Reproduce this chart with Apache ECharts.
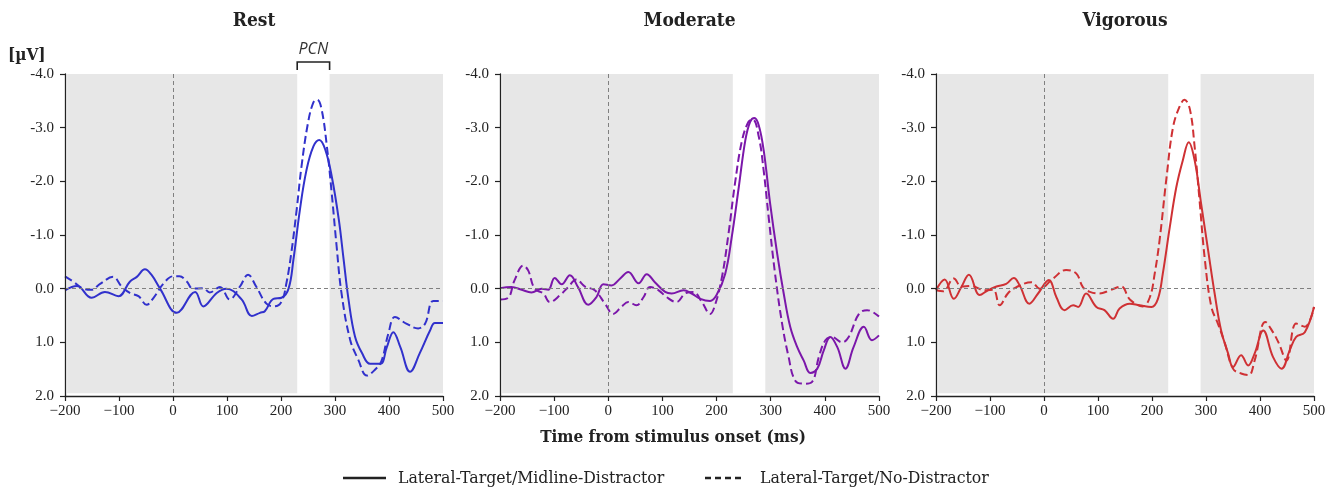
<!DOCTYPE html>
<html><head><meta charset="utf-8">
<script src="https://cdn.jsdelivr.net/npm/echarts@6/dist/echarts.min.js"></script>
<style>html,body{margin:0;padding:0;background:#fff}#c{width:1338px;height:487px}</style>
</head><body><div id="c"></div>
<script>
// ---------- DATA ----------
const panelTitles = ['Rest', 'Moderate', 'Vigorous'];
const legendNames = ['Lateral-Target/Midline-Distractor', 'Lateral-Target/No-Distractor'];
const xTicks = [-200, -100, 0, 100, 200, 300, 400, 500];
const yTicks = [-4, -3, -2, -1, 0, 1, 2];
const pcnWindow = [230, 290];
const panelColors = ['#3131cc', '#7b17aa', '#cf3134'];

// [time ms, amplitude µV]
const restSolid = [[-200,0.03],[-178,-0.05],[-151,0.17],[-126,0.06],[-101,0.14],[-80,-0.13],[-67,-0.22],[-52,-0.36],[-40,-0.26],[-24,0],[7,0.45],[41,0.06],[56,0.33],[81,0.08],[99,0.0],[127,0.2],[146,0.51],[161,0.45],[170,0.42],[186,0.19],[201,0.17],[214,0],[223,-0.54],[235,-1.47],[247,-2.2],[260,-2.65],[271,-2.77],[282,-2.59],[294,-2.09],[307,-1.29],[316,-0.54],[325,0.2],[337,0.89],[350,1.2],[365,1.4],[384,1.4],[396,1.09],[408,0.81],[421,1.09],[439,1.55],[457,1.2],[476,0.78],[485,0.64],[500,0.64]];
const restDashed = [[-200,-0.23],[-186,-0.14],[-166,0],[-151,0.02],[-135,-0.09],[-111,-0.22],[-95,-0.04],[-80,0.08],[-64,0.14],[-49,0.3],[-36,0.17],[-18,-0.09],[0,-0.23],[12,-0.23],[25,-0.14],[37,0],[56,-0.01],[68,0.07],[87,-0.03],[105,0.2],[124,-0.04],[139,-0.26],[154,-0.04],[173,0.28],[188,0.33],[201,0.24],[210,-0.1],[219,-0.66],[229,-1.47],[238,-2.28],[250,-3.09],[260,-3.47],[267,-3.52],[275,-3.35],[285,-2.65],[294,-1.77],[303,-0.79],[312,0.08],[328,0.95],[343,1.32],[359,1.62],[374,1.51],[386,1.35],[399,0.83],[411,0.53],[432,0.65],[454,0.74],[467,0.65],[482,0.23],[500,0.23]];
const moderateSolid = [[-200,-0.01],[-179,-0.03],[-160,0.02],[-142,0.07],[-123,0],[-111,0.02],[-99,-0.2],[-86,-0.08],[-71,-0.25],[-56,-0.03],[-37,0.3],[-22,0.16],[-9,-0.08],[6,-0.06],[22,-0.19],[37,-0.31],[56,-0.1],[71,-0.27],[86,-0.12],[105,0.06],[117,0.09],[139,0.03],[154,0.09],[170,0.19],[188,0.23],[200,0.12],[216,-0.28],[228,-0.96],[241,-1.89],[253,-2.76],[262,-3.11],[270,-3.18],[278,-3.04],[287,-2.58],[299,-1.58],[312,-0.65],[324,0.09],[336,0.71],[349,1.09],[361,1.34],[373,1.57],[386,1.49],[398,1.15],[410,0.9],[423,1.09],[438,1.49],[453,1.09],[472,0.71],[487,0.96],[500,0.87]];
const moderateDashed = [[-200,0.2],[-185,0.17],[-173,-0.16],[-157,-0.43],[-148,-0.34],[-136,0],[-120,0.09],[-108,0.25],[-89,0.12],[-74,-0.03],[-59,-0.17],[-43,-0.04],[-25,0.03],[-6,0.28],[9,0.47],[25,0.33],[37,0.25],[52,0.31],[65,0.16],[77,-0.03],[93,0.03],[108,0.16],[126,0.25],[142,0.09],[157,0.06],[173,0.25],[188,0.47],[197,0.31],[210,-0.22],[222,-1.02],[234,-1.96],[247,-2.76],[259,-3.11],[267,-3.15],[278,-2.83],[287,-2.2],[296,-1.35],[308,-0.28],[321,0.65],[333,1.27],[345,1.71],[361,1.77],[376,1.74],[389,1.27],[401,0.96],[413,0.9],[432,1.0],[444,0.9],[463,0.47],[478,0.4],[500,0.52]];
const vigorousSolid = [[-200,0.03],[-184,-0.17],[-167,0.19],[-153,-0.03],[-139,-0.26],[-119,0.12],[-104,0.03],[-88,-0.04],[-70,-0.09],[-56,-0.2],[-45,-0.06],[-27,0.28],[-11,0.09],[9,-0.16],[23,0.16],[38,0.4],[54,0.31],[63,0.34],[78,0.09],[97,0.34],[112,0.4],[128,0.56],[140,0.37],[159,0.28],[177,0.31],[199,0.34],[211,0.19],[220,-0.28],[233,-1.15],[245,-1.89],[257,-2.39],[268,-2.73],[279,-2.39],[291,-1.58],[304,-0.71],[316,0.09],[328,0.78],[341,1.21],[350,1.46],[365,1.24],[378,1.43],[390,1.21],[406,0.78],[424,1.27],[440,1.49],[455,1.15],[467,0.9],[483,0.81],[500,0.34]];
const vigorousDashed = [[-200,0.03],[-187,0.05],[-167,-0.19],[-153,-0.04],[-135,-0.05],[-110,0.03],[-94,0.02],[-82,0.31],[-67,0.09],[-51,-0.03],[-23,-0.12],[-8,0],[17,-0.19],[41,-0.35],[60,-0.28],[72,-0.03],[85,0.06],[103,0.09],[122,0.03],[143,-0.04],[159,0.2],[183,0.33],[196,0.16],[205,-0.28],[214,-0.9],[227,-2.08],[239,-3.01],[251,-3.39],[260,-3.52],[270,-3.35],[279,-2.64],[288,-1.65],[298,-0.53],[310,0.34],[322,0.65],[335,1.02],[350,1.49],[365,1.58],[379,1.61],[390,1.34],[410,0.62],[424,0.81],[435,1.02],[449,1.34],[467,0.65],[483,0.71],[500,0.34]];

const panelData = [[restSolid, restDashed],[moderateSolid, moderateDashed],[vigorousSolid, vigorousDashed]];

// ---------- LAYOUT ----------
const grids = [
  {left: 65, top: 74, width: 378, height: 322},
  {left: 500, top: 74, width: 379, height: 322},
  {left: 936, top: 74, width: 378, height: 322}
];
const serif = "'Liberation Serif', 'DejaVu Serif', serif";
const condSerif = "'DejaVu Serif Condensed', 'DejaVu Serif', serif";
const dashPattern = [8, 4];
const shadeY = [yTicks[0], 1.95];

const chart = echarts.init(document.getElementById('c'), null, {renderer: 'canvas'});

const xAxes = [], yAxes = [], series = [];
grids.forEach((g, i) => {
  xAxes.push({
    type: 'value', gridIndex: i, min: xTicks[0], max: xTicks[xTicks.length - 1], interval: 100, z: 5,
    axisLine: {show: true, onZero: false, lineStyle: {color: '#222', width: 1.3}},
    axisTick: {show: true, length: 5, lineStyle: {color: '#222', width: 1.2}},
    splitLine: {show: false},
    axisLabel: {fontFamily: serif, fontSize: 15, color: '#222', margin: 8,
      formatter: v => (v < 0 ? '\u2212' + Math.abs(v) : String(v))}
  });
  yAxes.push({
    type: 'value', gridIndex: i, inverse: true, min: yTicks[0], max: yTicks[yTicks.length - 1], interval: 1, z: 5,
    axisLine: {show: true, onZero: false, lineStyle: {color: '#222', width: 1.3}},
    axisTick: {show: true, length: 5, lineStyle: {color: '#222', width: 1.2}},
    splitLine: {show: false},
    axisLabel: {fontFamily: serif, fontSize: 15, color: '#222', margin: 11,
      formatter: v => v.toFixed(1)}
  });
  const [solid, dashed] = panelData[i];
  series.push({
    name: 'bg' + i, type: 'line', xAxisIndex: i, yAxisIndex: i, data: [], silent: true, z: 1,
    markArea: {silent: true, itemStyle: {color: '#e7e7e7'}, data: [
      [{xAxis: xTicks[0] + 4, yAxis: shadeY[0]}, {xAxis: pcnWindow[0], yAxis: shadeY[1]}],
      [{xAxis: pcnWindow[1], yAxis: shadeY[0]}, {xAxis: xTicks[xTicks.length - 1], yAxis: shadeY[1]}]
    ]}
  });
  series.push({
    name: 'ref' + i, type: 'line', xAxisIndex: i, yAxisIndex: i, data: [], silent: true, z: 2,
    markLine: {silent: true, symbol: 'none', label: {show: false},
      lineStyle: {color: '#808080', type: [4, 3], width: 1},
      data: [{xAxis: 0}, {yAxis: 0}]}
  });
  series.push({
    name: panelTitles[i] + ' solid', type: 'line', xAxisIndex: i, yAxisIndex: i,
    data: solid, smooth: 0.4, symbol: 'none', silent: true, z: 3,
    lineStyle: {color: panelColors[i], width: 2}
  });
  series.push({
    name: panelTitles[i] + ' dashed', type: 'line', xAxisIndex: i, yAxisIndex: i,
    data: dashed, smooth: 0.4, symbol: 'none', silent: true, z: 3,
    lineStyle: {color: panelColors[i], width: 2, type: dashPattern}
  });
});

chart.setOption({
  animation: false,
  grid: grids,
  xAxis: xAxes,
  yAxis: yAxes,
  series: series
});

// ---------- ANNOTATIONS ----------
const gfx = [];
grids.forEach((g, i) => {
  const cx = g.left + g.width / 2;
  gfx.push({type: 'text', x: cx, y: 21, style: {text: panelTitles[i], fontFamily: condSerif, fontWeight: 'bold', fontSize: 19, fill: '#222', align: 'center', verticalAlign: 'middle'}});
});
gfx.push({type: 'text', x: 8, y: 56, style: {text: '[\u00b5V]', fontFamily: condSerif, fontWeight: 'bold', fontSize: 17, fill: '#222', align: 'left', verticalAlign: 'middle'}});
gfx.push({type: 'text', x: 673, y: 438, style: {text: 'Time from stimulus onset (ms)', fontFamily: condSerif, fontWeight: 'bold', fontSize: 17, fill: '#222', align: 'center', verticalAlign: 'middle'}});
const pA = chart.convertToPixel({gridIndex: 0}, [pcnWindow[0], yTicks[0]]);
const pB = chart.convertToPixel({gridIndex: 0}, [pcnWindow[1], yTicks[0]]);
gfx.push({type: 'polyline', shape: {points: [[pA[0], pA[1] - 4], [pA[0], pA[1] - 12], [pB[0], pB[1] - 12], [pB[0], pB[1] - 4]]}, style: {stroke: '#222', lineWidth: 1.6, fill: null}});
gfx.push({type: 'text', x: (pA[0] + pB[0]) / 2, y: pA[1] - 25, style: {text: 'PCN', fontFamily: "'Open Sans', 'DejaVu Sans', sans-serif", fontStyle: 'italic', fontSize: 16, fill: '#333', align: 'center', verticalAlign: 'middle'}});
const legY = 478;
gfx.push({type: 'line', shape: {x1: 343, y1: legY, x2: 386, y2: legY}, style: {stroke: '#222', lineWidth: 2.5}});
gfx.push({type: 'text', x: 398, y: legY, style: {text: legendNames[0], fontFamily: condSerif, fontSize: 17.5, fill: '#222', align: 'left', verticalAlign: 'middle'}});
gfx.push({type: 'line', shape: {x1: 705, y1: legY, x2: 742, y2: legY}, style: {stroke: '#222', lineWidth: 2.5, lineDash: [6, 4]}});
gfx.push({type: 'text', x: 760, y: legY, style: {text: legendNames[1], fontFamily: condSerif, fontSize: 17.5, fill: '#222', align: 'left', verticalAlign: 'middle'}});
chart.setOption({graphic: gfx});
</script></body></html>
